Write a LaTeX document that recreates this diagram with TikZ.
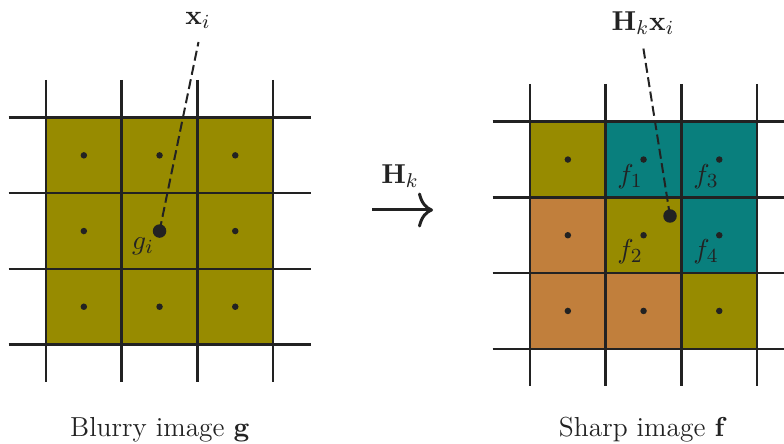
\documentclass[tikz,border=0pt]{standalone}
\usepackage{amsmath}
\usetikzlibrary{arrows.meta}
\definecolor{cOlive}{RGB}{151,139,0}
\definecolor{cTeal}{RGB}{9,127,125}
\definecolor{cOrange}{RGB}{193,127,60}
\definecolor{ink}{RGB}{34,34,34}
\begin{document}
\begin{tikzpicture}[x=0.4pt,y=-0.4pt,
  gridline/.style={line width=1pt, draw=ink},
  dotsm/.style={circle, fill=ink, inner sep=0pt, minimum size=2.6pt},
  dotbig/.style={circle, fill=ink, inner sep=0pt, minimum size=5.4pt},
  lbl/.style={font=\fontsize{11}{13}\selectfont, text=ink, inner sep=1pt},
  lead/.style={draw=ink, dash pattern=on 4pt off 1.8pt, line width=0.8pt},
  cellA/.style={fill=cOlive},
  cellB/.style={fill=cTeal},
  cellC/.style={fill=cOrange}]
\useasboundingbox (0,0) rectangle (784,444);
% ---------- left grid ----------
\fill[cellA] (46,117.5) rectangle (273.1,344.6);
\foreach \i in {0,...,3} {
  \draw[gridline] ({46+\i*75.7},80) -- ({46+\i*75.7},382);
  \draw[gridline] (8.5,{117.5+\i*75.7}) -- (311,{117.5+\i*75.7});
}
\foreach \i/\j in {0/0,1/0,2/0,0/1,2/1,0/2,1/2,2/2}
  \node[dotsm] at ({83.85+\i*75.7},{155.35+\j*75.7}) {};
\node[dotbig] (gi) at (159.55,231.05) {};
\node[lbl] (glab) at (143,246) {$g_i$};
\node[lbl] (xi) at (198,20) {$\mathbf{x}_i$};
\coordinate (xitop) at (198.5,42);
\draw[lead] (gi.center) -- (xitop);
% ---------- arrow ----------
\coordinate (as) at (372,210);
\coordinate (ae) at (433,210);
\draw[line width=1.2pt, draw=ink, -{To[length=6pt,width=14pt]}] (as) -- (ae);
\node[lbl] (Hk) at (400,176) {$\mathbf{H}_k$};
% ---------- right grid ----------
\foreach \i/\j/\s in {0/0/cellA,1/0/cellB,2/0/cellB,0/1/cellC,1/1/cellA,2/1/cellB,0/2/cellC,1/2/cellC,2/2/cellA}
  \fill[\s] ({530+\i*75.7},{121.7+\j*75.7}) rectangle ++(75.7,75.7);
\foreach \i in {0,...,3} {
  \draw[gridline] ({530+\i*75.7},84) -- ({530+\i*75.7},386);
  \draw[gridline] (492.5,{121.7+\i*75.7}) -- (795,{121.7+\i*75.7});
}
\foreach \i in {0,1,2} \foreach \j in {0,1,2}
  \node[dotsm] at ({567.85+\i*75.7},{159.55+\j*75.7}) {};
\node[lbl] (f1) at (630,177) {$f_1$};
\node[lbl] (f3) at (706,177) {$f_3$};
\node[lbl] (f2) at (630,252) {$f_2$};
\node[lbl] (f4) at (706,252) {$f_4$};
\node[dotbig] (hx) at (670,216) {};
\node[lbl] (hxi) at (643,23) {$\mathbf{H}_k\mathbf{x}_i$};
\coordinate (hxitop) at (643,46);
\draw[lead] (hx.center) -- (hxitop);
% ---------- captions ----------
\node[lbl] (capL) at (160,430) {Blurry image $\mathbf{g}$};
\node[lbl] (capR) at (643,430) {Sharp image $\mathbf{f}$};
\end{tikzpicture}
\end{document}
